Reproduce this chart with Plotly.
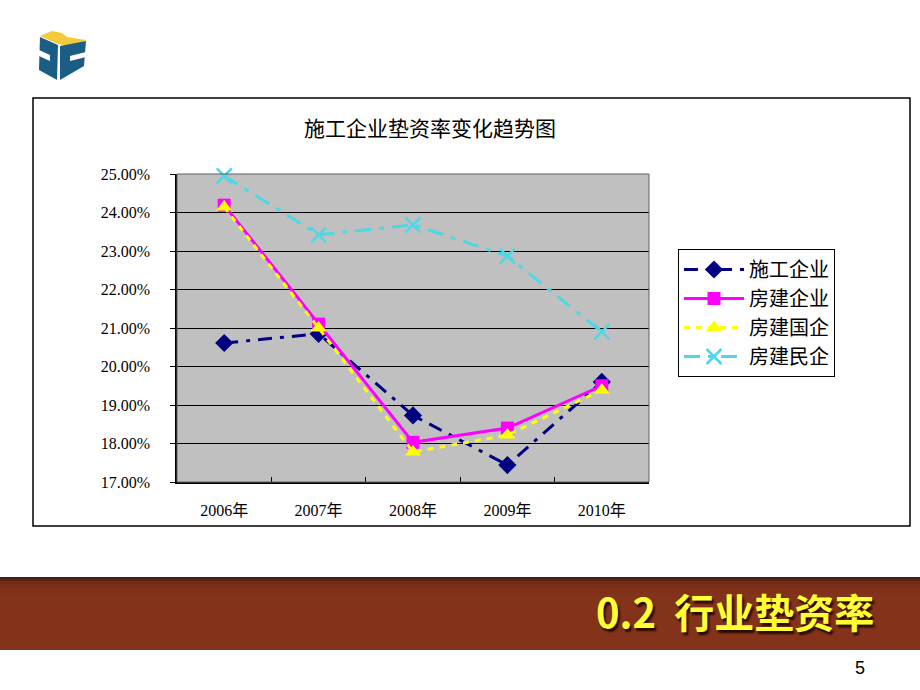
import plotly.graph_objects as go

# ---------------- data ----------------
years = ["2006年", "2007年", "2008年", "2009年", "2010年"]
sg_qy = [0.2061, 0.2085, 0.1873, 0.1744, 0.1960]   # 施工企业
fj_qy = [0.2419, 0.2110, 0.1803, 0.1840, 0.1950]   # 房建企业
fj_gq = [0.2414, 0.2100, 0.1778, 0.1822, 0.1939]   # 房建国企
fj_mq = [0.2495, 0.2342, 0.2368, 0.2287, 0.2090]   # 房建民企
series_names = ["施工企业", "房建企业", "房建国企", "房建民企"]
y_ticks = [0.17, 0.18, 0.19, 0.20, 0.21, 0.22, 0.23, 0.24, 0.25]

W, H = 920, 690
L, R, T, B = 177, 649, 174, 482  # plot area in pixels


def xp(px):
    return (px - L) / (R - L)


def yp(py):
    return (B - py) / (B - T)


SERIF = "Liberation Serif, Noto Sans CJK SC, serif"
CJK = "Noto Sans CJK SC, sans-serif"

fig = go.Figure()
fig.add_trace(go.Scatter(x=years, y=sg_qy, name=series_names[0], mode="lines+markers",
                         line=dict(color="#000080", width=3, dash="14px,8px,4px,8px"),
                         marker=dict(symbol="diamond", size=14, color="#000080"),
                         cliponaxis=False))
fig.add_trace(go.Scatter(x=years, y=fj_qy, name=series_names[1], mode="lines+markers",
                         line=dict(color="#FF00FF", width=3),
                         marker=dict(symbol="square", size=13, color="#FF00FF"),
                         cliponaxis=False))
fig.add_trace(go.Scatter(x=years, y=fj_gq, name=series_names[2], mode="lines+markers",
                         line=dict(color="#FFFF00", width=3, dash="6px,6px"),
                         marker=dict(symbol="triangle-up", size=14, color="#FFFF00"),
                         cliponaxis=False))
fig.add_trace(go.Scatter(x=years, y=fj_mq, name=series_names[3], mode="lines+markers",
                         line=dict(color="#4CD8E4", width=3, dash="16px,8px,5px,8px"),
                         marker=dict(symbol="x-thin-open", size=15,
                                     line=dict(color="#4CD8E4", width=2.5)),
                         cliponaxis=False))

shapes = []
# outer chart frame
shapes.append(dict(type="rect", xref="paper", yref="paper",
                   x0=xp(33), x1=xp(910), y0=yp(526), y1=yp(98),
                   line=dict(color="black", width=1.5), layer="below"))
# plot area border (top/right grey)
shapes.append(dict(type="rect", xref="paper", yref="paper",
                   x0=0, x1=1, y0=0, y1=1,
                   line=dict(color="#606060", width=1), layer="above"))

# banner with vertical gradient
banner_cols = ["#4A1F10", "#5E2412", "#702A15", "#7A2D17", "#80311A", "#84331B"]
strip = [577, 579, 581, 584, 588, 594, 650]
for i, c in enumerate(banner_cols):
    shapes.append(dict(type="rect", xref="paper", yref="paper",
                       x0=xp(0), x1=xp(920), y0=yp(strip[i + 1]), y1=yp(strip[i]),
                       fillcolor=c, line=dict(width=0), layer="below"))


# logo
def path(pts):
    return "M " + " L ".join(f"{xp(x):.4f},{yp(y):.4f}" for x, y in pts) + " Z"


shapes.append(dict(type="path", xref="paper", yref="paper",
                   path=path([(40, 36), (52, 31), (62, 33), (67, 37), (86, 40), (73, 47), (58, 44)]),
                   fillcolor="#F2CB3A", line=dict(width=0)))
shapes.append(dict(type="path", xref="paper", yref="paper",
                   path=path([(40, 37), (58, 45), (57, 80), (39, 70)]),
                   fillcolor="#1B5E85", line=dict(width=0)))
shapes.append(dict(type="path", xref="paper", yref="paper",
                   path=path([(60, 46), (86, 41), (84, 66), (60, 80)]),
                   fillcolor="#1B5E85", line=dict(width=0)))
shapes.append(dict(type="path", xref="paper", yref="paper",
                   path=path([(39, 50), (50, 55), (50, 61), (39, 56)]),
                   fillcolor="white", line=dict(width=0)))
shapes.append(dict(type="path", xref="paper", yref="paper",
                   path=path([(86, 52), (70, 56), (70, 61), (86, 57)]),
                   fillcolor="white", line=dict(width=0)))

annotations = [
    dict(text="施工企业垫资率变化趋势图", x=xp(430), y=yp(127), xref="paper", yref="paper",
         showarrow=False, font=dict(family=CJK, size=21, color="black"),
         xanchor="center", yanchor="middle"),
    dict(text="<b>0.2  行业垫资率</b>", x=xp(876), y=yp(611), xref="paper", yref="paper",
         showarrow=False,
         font=dict(family=CJK, size=40, color="#FFFF33", shadow="2px 3px 2px #2A0A00"),
         xanchor="right", yanchor="middle"),
    dict(text="5", x=xp(860), y=yp(668), xref="paper", yref="paper",
         showarrow=False, font=dict(family="Liberation Sans, Arial", size=18, color="black"),
         xanchor="center", yanchor="middle"),
]

fig.update_layout(
    width=W, height=H,
    margin=dict(l=L, r=W - R, t=T, b=H - B, pad=0),
    paper_bgcolor="white",
    plot_bgcolor="#C0C0C0",
    showlegend=True,
    legend=dict(x=xp(678), y=yp(249), xanchor="left", yanchor="top",
                bgcolor="white", bordercolor="black", borderwidth=1,
                font=dict(family=CJK, size=20, color="black"),
                itemwidth=60, tracegroupgap=0),
    xaxis=dict(type="category", range=[-0.5, 4.5], showgrid=False, showline=True,
               linecolor="black", linewidth=1.5,
               ticks="inside", ticklen=5, tickcolor="black", tickson="boundaries",
               tickfont=dict(family=SERIF, size=16, color="black"),
               ticklabelstandoff=13, zeroline=False),
    yaxis=dict(range=[0.17, 0.25], tickvals=y_ticks, tickformat=".2%",
               showgrid=True, gridcolor="black", gridwidth=1,
               showline=True, linecolor="black", linewidth=1.5,
               ticks="outside", ticklen=5, tickcolor="black",
               tickfont=dict(family=SERIF, size=16, color="black"),
               ticklabelstandoff=17, zeroline=False),
    shapes=shapes,
    annotations=annotations,
)

fig.write_html("out.html")
